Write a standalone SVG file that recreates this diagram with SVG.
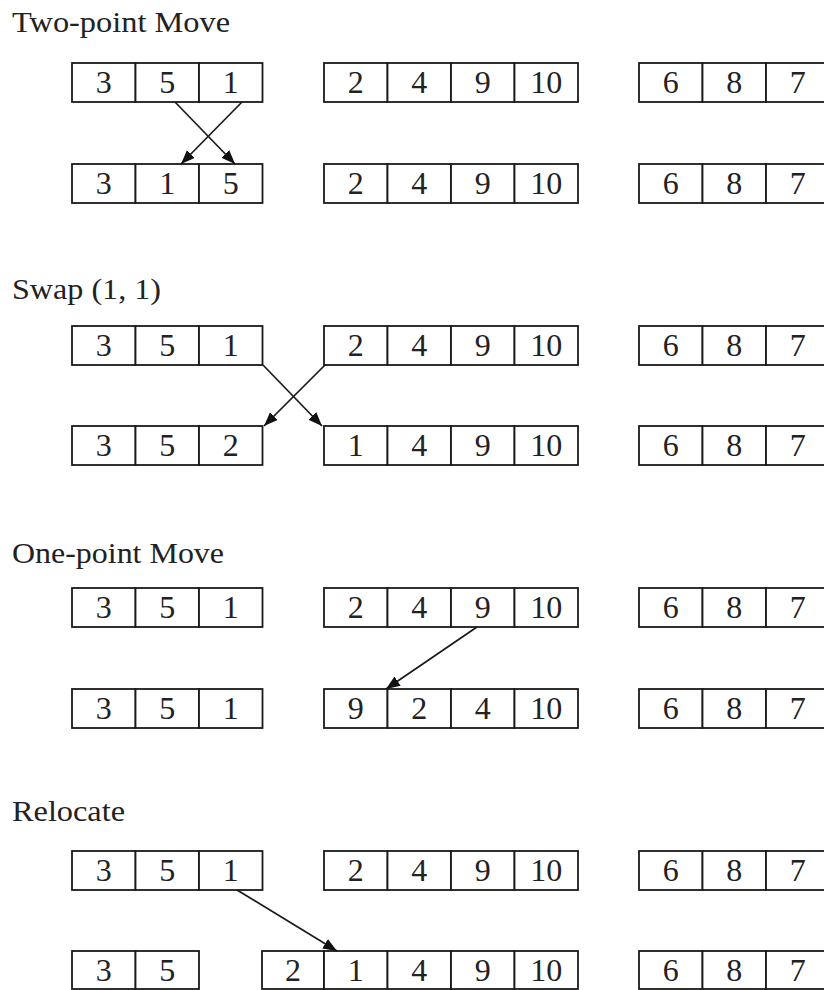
<svg xmlns="http://www.w3.org/2000/svg" width="824" height="990" viewBox="0 0 824 990">
  <style>
    .title { font-family: "Liberation Serif", "Times New Roman", serif; font-size: 30px; fill: #222; }
    .cell { fill: #fff; stroke: #1a1a1a; stroke-width: 1.8; }
    .num { font-family: "Liberation Serif", "Times New Roman", serif; font-size: 32px; fill: #222; text-anchor: middle; }
    .link { stroke: #1a1a1a; stroke-width: 1.7; fill: none; marker-end: url(#head); }
  </style>
  <defs>
    <marker id="head" markerUnits="userSpaceOnUse" markerWidth="15" markerHeight="12" refX="14" refY="5.5" orient="auto">
      <path d="M0,0 L14,5.5 L0,11 z" fill="#111"/>
    </marker>
  </defs>
  <rect width="824" height="990" fill="#fff"/>

  <!-- Section 1: Two-point Move -->
  <text class="title" x="12" y="32" textLength="218" lengthAdjust="spacingAndGlyphs">Two-point Move</text>
  <g id="s1-r1-a">
    <rect class="cell" x="72" y="63" width="63.5" height="39"/><rect class="cell" x="135.5" y="63" width="63.5" height="39"/><rect class="cell" x="199" y="63" width="63.5" height="39"/>
    <text class="num" x="103.8" y="93">3</text><text class="num" x="167.3" y="93">5</text><text class="num" x="230.8" y="93">1</text>
  </g>
  <g id="s1-r1-b">
    <rect class="cell" x="324" y="63" width="63.5" height="39"/><rect class="cell" x="387.5" y="63" width="63.5" height="39"/><rect class="cell" x="451" y="63" width="63.5" height="39"/><rect class="cell" x="514.5" y="63" width="63.5" height="39"/>
    <text class="num" x="355.8" y="93">2</text><text class="num" x="419.3" y="93">4</text><text class="num" x="482.8" y="93">9</text><text class="num" x="546.3" y="93">10</text>
  </g>
  <g id="s1-r1-c">
    <rect class="cell" x="639" y="63" width="63.5" height="39"/><rect class="cell" x="702.5" y="63" width="63.5" height="39"/><rect class="cell" x="766" y="63" width="63.5" height="39"/>
    <text class="num" x="670.8" y="93">6</text><text class="num" x="734.3" y="93">8</text><text class="num" x="797.8" y="93">7</text>
  </g>
  <g id="s1-r2-a">
    <rect class="cell" x="72" y="164" width="63.5" height="39"/><rect class="cell" x="135.5" y="164" width="63.5" height="39"/><rect class="cell" x="199" y="164" width="63.5" height="39"/>
    <text class="num" x="103.8" y="194">3</text><text class="num" x="167.3" y="194">1</text><text class="num" x="230.8" y="194">5</text>
  </g>
  <g id="s1-r2-b">
    <rect class="cell" x="324" y="164" width="63.5" height="39"/><rect class="cell" x="387.5" y="164" width="63.5" height="39"/><rect class="cell" x="451" y="164" width="63.5" height="39"/><rect class="cell" x="514.5" y="164" width="63.5" height="39"/>
    <text class="num" x="355.8" y="194">2</text><text class="num" x="419.3" y="194">4</text><text class="num" x="482.8" y="194">9</text><text class="num" x="546.3" y="194">10</text>
  </g>
  <g id="s1-r2-c">
    <rect class="cell" x="639" y="164" width="63.5" height="39"/><rect class="cell" x="702.5" y="164" width="63.5" height="39"/><rect class="cell" x="766" y="164" width="63.5" height="39"/>
    <text class="num" x="670.8" y="194">6</text><text class="num" x="734.3" y="194">8</text><text class="num" x="797.8" y="194">7</text>
  </g>

  <!-- Section 2: Swap (1, 1) -->
  <text class="title" x="12" y="299" textLength="149" lengthAdjust="spacingAndGlyphs">Swap (1, 1)</text>
  <g id="s2-r1-a">
    <rect class="cell" x="72" y="326" width="63.5" height="39"/><rect class="cell" x="135.5" y="326" width="63.5" height="39"/><rect class="cell" x="199" y="326" width="63.5" height="39"/>
    <text class="num" x="103.8" y="356">3</text><text class="num" x="167.3" y="356">5</text><text class="num" x="230.8" y="356">1</text>
  </g>
  <g id="s2-r1-b">
    <rect class="cell" x="324" y="326" width="63.5" height="39"/><rect class="cell" x="387.5" y="326" width="63.5" height="39"/><rect class="cell" x="451" y="326" width="63.5" height="39"/><rect class="cell" x="514.5" y="326" width="63.5" height="39"/>
    <text class="num" x="355.8" y="356">2</text><text class="num" x="419.3" y="356">4</text><text class="num" x="482.8" y="356">9</text><text class="num" x="546.3" y="356">10</text>
  </g>
  <g id="s2-r1-c">
    <rect class="cell" x="639" y="326" width="63.5" height="39"/><rect class="cell" x="702.5" y="326" width="63.5" height="39"/><rect class="cell" x="766" y="326" width="63.5" height="39"/>
    <text class="num" x="670.8" y="356">6</text><text class="num" x="734.3" y="356">8</text><text class="num" x="797.8" y="356">7</text>
  </g>
  <g id="s2-r2-a">
    <rect class="cell" x="72" y="426" width="63.5" height="39"/><rect class="cell" x="135.5" y="426" width="63.5" height="39"/><rect class="cell" x="199" y="426" width="63.5" height="39"/>
    <text class="num" x="103.8" y="456">3</text><text class="num" x="167.3" y="456">5</text><text class="num" x="230.8" y="456">2</text>
  </g>
  <g id="s2-r2-b">
    <rect class="cell" x="324" y="426" width="63.5" height="39"/><rect class="cell" x="387.5" y="426" width="63.5" height="39"/><rect class="cell" x="451" y="426" width="63.5" height="39"/><rect class="cell" x="514.5" y="426" width="63.5" height="39"/>
    <text class="num" x="355.8" y="456">1</text><text class="num" x="419.3" y="456">4</text><text class="num" x="482.8" y="456">9</text><text class="num" x="546.3" y="456">10</text>
  </g>
  <g id="s2-r2-c">
    <rect class="cell" x="639" y="426" width="63.5" height="39"/><rect class="cell" x="702.5" y="426" width="63.5" height="39"/><rect class="cell" x="766" y="426" width="63.5" height="39"/>
    <text class="num" x="670.8" y="456">6</text><text class="num" x="734.3" y="456">8</text><text class="num" x="797.8" y="456">7</text>
  </g>

  <!-- Section 3: One-point Move -->
  <text class="title" x="12" y="563" textLength="212" lengthAdjust="spacingAndGlyphs">One-point Move</text>
  <g id="s3-r1-a">
    <rect class="cell" x="72" y="588" width="63.5" height="39"/><rect class="cell" x="135.5" y="588" width="63.5" height="39"/><rect class="cell" x="199" y="588" width="63.5" height="39"/>
    <text class="num" x="103.8" y="618">3</text><text class="num" x="167.3" y="618">5</text><text class="num" x="230.8" y="618">1</text>
  </g>
  <g id="s3-r1-b">
    <rect class="cell" x="324" y="588" width="63.5" height="39"/><rect class="cell" x="387.5" y="588" width="63.5" height="39"/><rect class="cell" x="451" y="588" width="63.5" height="39"/><rect class="cell" x="514.5" y="588" width="63.5" height="39"/>
    <text class="num" x="355.8" y="618">2</text><text class="num" x="419.3" y="618">4</text><text class="num" x="482.8" y="618">9</text><text class="num" x="546.3" y="618">10</text>
  </g>
  <g id="s3-r1-c">
    <rect class="cell" x="639" y="588" width="63.5" height="39"/><rect class="cell" x="702.5" y="588" width="63.5" height="39"/><rect class="cell" x="766" y="588" width="63.5" height="39"/>
    <text class="num" x="670.8" y="618">6</text><text class="num" x="734.3" y="618">8</text><text class="num" x="797.8" y="618">7</text>
  </g>
  <g id="s3-r2-a">
    <rect class="cell" x="72" y="689" width="63.5" height="39"/><rect class="cell" x="135.5" y="689" width="63.5" height="39"/><rect class="cell" x="199" y="689" width="63.5" height="39"/>
    <text class="num" x="103.8" y="719">3</text><text class="num" x="167.3" y="719">5</text><text class="num" x="230.8" y="719">1</text>
  </g>
  <g id="s3-r2-b">
    <rect class="cell" x="324" y="689" width="63.5" height="39"/><rect class="cell" x="387.5" y="689" width="63.5" height="39"/><rect class="cell" x="451" y="689" width="63.5" height="39"/><rect class="cell" x="514.5" y="689" width="63.5" height="39"/>
    <text class="num" x="355.8" y="719">9</text><text class="num" x="419.3" y="719">2</text><text class="num" x="482.8" y="719">4</text><text class="num" x="546.3" y="719">10</text>
  </g>
  <g id="s3-r2-c">
    <rect class="cell" x="639" y="689" width="63.5" height="39"/><rect class="cell" x="702.5" y="689" width="63.5" height="39"/><rect class="cell" x="766" y="689" width="63.5" height="39"/>
    <text class="num" x="670.8" y="719">6</text><text class="num" x="734.3" y="719">8</text><text class="num" x="797.8" y="719">7</text>
  </g>

  <!-- Section 4: Relocate -->
  <text class="title" x="12" y="821" textLength="113" lengthAdjust="spacingAndGlyphs">Relocate</text>
  <g id="s4-r1-a">
    <rect class="cell" x="72" y="851" width="63.5" height="39"/><rect class="cell" x="135.5" y="851" width="63.5" height="39"/><rect class="cell" x="199" y="851" width="63.5" height="39"/>
    <text class="num" x="103.8" y="881">3</text><text class="num" x="167.3" y="881">5</text><text class="num" x="230.8" y="881">1</text>
  </g>
  <g id="s4-r1-b">
    <rect class="cell" x="324" y="851" width="63.5" height="39"/><rect class="cell" x="387.5" y="851" width="63.5" height="39"/><rect class="cell" x="451" y="851" width="63.5" height="39"/><rect class="cell" x="514.5" y="851" width="63.5" height="39"/>
    <text class="num" x="355.8" y="881">2</text><text class="num" x="419.3" y="881">4</text><text class="num" x="482.8" y="881">9</text><text class="num" x="546.3" y="881">10</text>
  </g>
  <g id="s4-r1-c">
    <rect class="cell" x="639" y="851" width="63.5" height="39"/><rect class="cell" x="702.5" y="851" width="63.5" height="39"/><rect class="cell" x="766" y="851" width="63.5" height="39"/>
    <text class="num" x="670.8" y="881">6</text><text class="num" x="734.3" y="881">8</text><text class="num" x="797.8" y="881">7</text>
  </g>
  <g id="s4-r2-a">
    <rect class="cell" x="72" y="951" width="63.5" height="38"/><rect class="cell" x="135.5" y="951" width="63.5" height="38"/>
    <text class="num" x="103.8" y="981">3</text><text class="num" x="167.3" y="981">5</text>
  </g>
  <g id="s4-r2-b">
    <rect class="cell" x="262" y="951" width="62" height="38"/><rect class="cell" x="324" y="951" width="63.5" height="38"/><rect class="cell" x="387.5" y="951" width="63.5" height="38"/><rect class="cell" x="451" y="951" width="63.5" height="38"/><rect class="cell" x="514.5" y="951" width="63.5" height="38"/>
    <text class="num" x="293" y="981">2</text><text class="num" x="355.8" y="981">1</text><text class="num" x="419.3" y="981">4</text><text class="num" x="482.8" y="981">9</text><text class="num" x="546.3" y="981">10</text>
  </g>
  <g id="s4-r2-c">
    <rect class="cell" x="639" y="951" width="63.5" height="38"/><rect class="cell" x="702.5" y="951" width="63.5" height="38"/><rect class="cell" x="766" y="951" width="63.5" height="38"/>
    <text class="num" x="670.8" y="981">6</text><text class="num" x="734.3" y="981">8</text><text class="num" x="797.8" y="981">7</text>
  </g>

  <!-- moves between rows -->
  <g id="connectors">
    <line class="link" x1="175" y1="102" x2="235" y2="164"/>
    <line class="link" x1="242" y1="102" x2="181" y2="164"/>
    <line class="link" x1="263" y1="365" x2="322" y2="426"/>
    <line class="link" x1="325" y1="365" x2="264" y2="426"/>
    <line class="link" x1="477" y1="627" x2="386" y2="689"/>
    <line class="link" x1="237" y1="890" x2="337" y2="951"/>
  </g>
</svg>
